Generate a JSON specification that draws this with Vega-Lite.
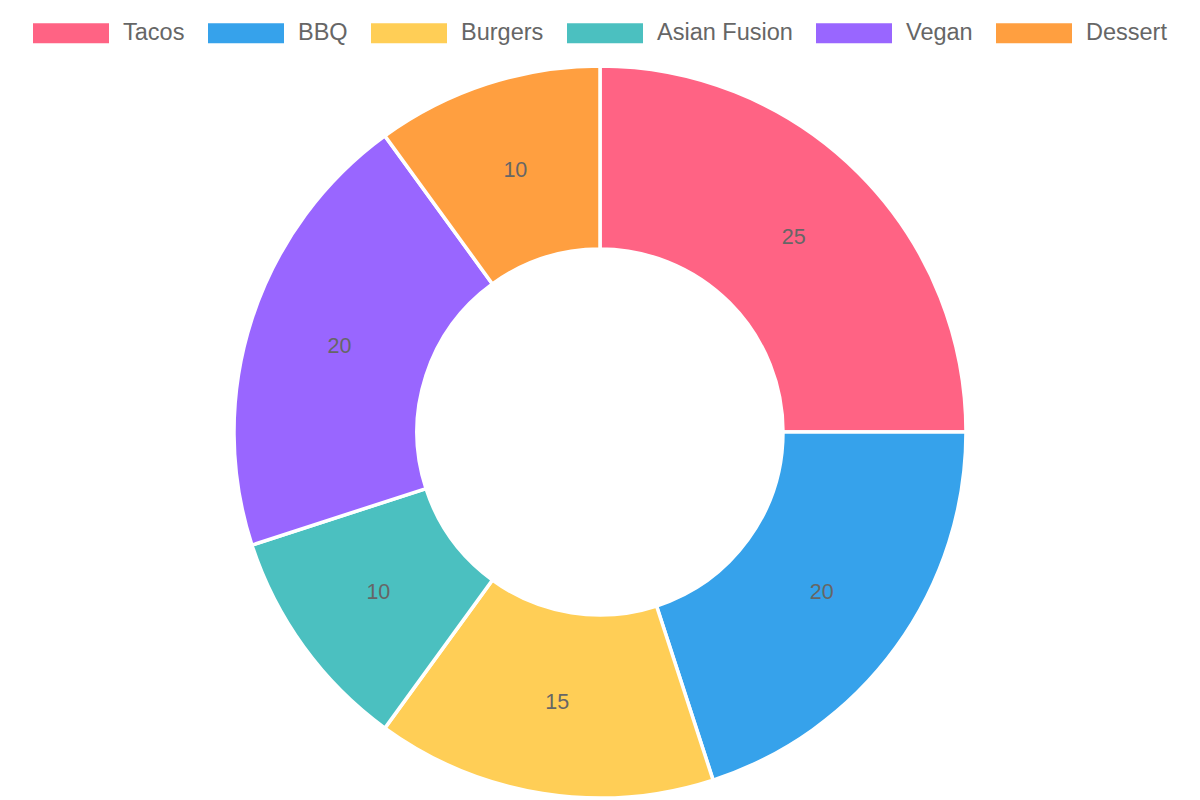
{
  "$schema": "https://vega.github.io/schema/vega-lite/v6.json",
  "autosize": {"type": "fit", "contains": "padding"},
  "width": 1200,
  "height": 800,
  "padding": {"top": 64, "bottom": 0, "left": 0, "right": 0},
  "background": "white",
  "config": {"view": {"stroke": null}, "font": "Liberation Sans"},
  "data": {
    "values": [
      {"category": "Tacos", "value": 25},
      {"category": "BBQ", "value": 20},
      {"category": "Burgers", "value": 15},
      {"category": "Asian Fusion", "value": 10},
      {"category": "Vegan", "value": 20},
      {"category": "Dessert", "value": 10}
    ]
  },
  "transform": [{"window": [{"op": "row_number", "as": "rank"}]}],
  "encoding": {
    "theta": {"field": "value", "type": "quantitative", "stack": true},
    "order": {"field": "rank", "type": "quantitative"},
    "color": {
      "field": "category",
      "type": "nominal",
      "sort": null,
      "scale": {
        "domain": ["Tacos", "BBQ", "Burgers", "Asian Fusion", "Vegan", "Dessert"],
        "range": ["#FF6384", "#36A2EB", "#FFCE56", "#4BC0C0", "#9966FF", "#FF9F40"]
      },
      "legend": {
        "title": null,
        "orient": "none",
        "direction": "horizontal",
        "legendX": 33,
        "legendY": -69,
        "padding": 0,
        "symbolType": "M-1,-0.263H1V0.263H-1Z",
        "symbolSize": 5776,
        "symbolStrokeWidth": 0,
        "symbolOpacity": 1,
        "labelFont": "Liberation Sans",
        "labelFontSize": 23.5,
        "labelColor": "#666666",
        "labelOffset": 14,
        "columnPadding": 23,
        "labelLimit": 300
      }
    }
  },
  "layer": [
    {
      "mark": {"type": "arc", "innerRadius": 183, "outerRadius": 366, "stroke": "white", "strokeWidth": 3.5}
    },
    {
      "mark": {"type": "text", "radius": 274, "font": "Liberation Sans", "fontSize": 21.5, "fill": "#666666"},
      "encoding": {
        "text": {"field": "value", "type": "quantitative"},
        "color": {"value": "#666666"}
      }
    }
  ]
}
